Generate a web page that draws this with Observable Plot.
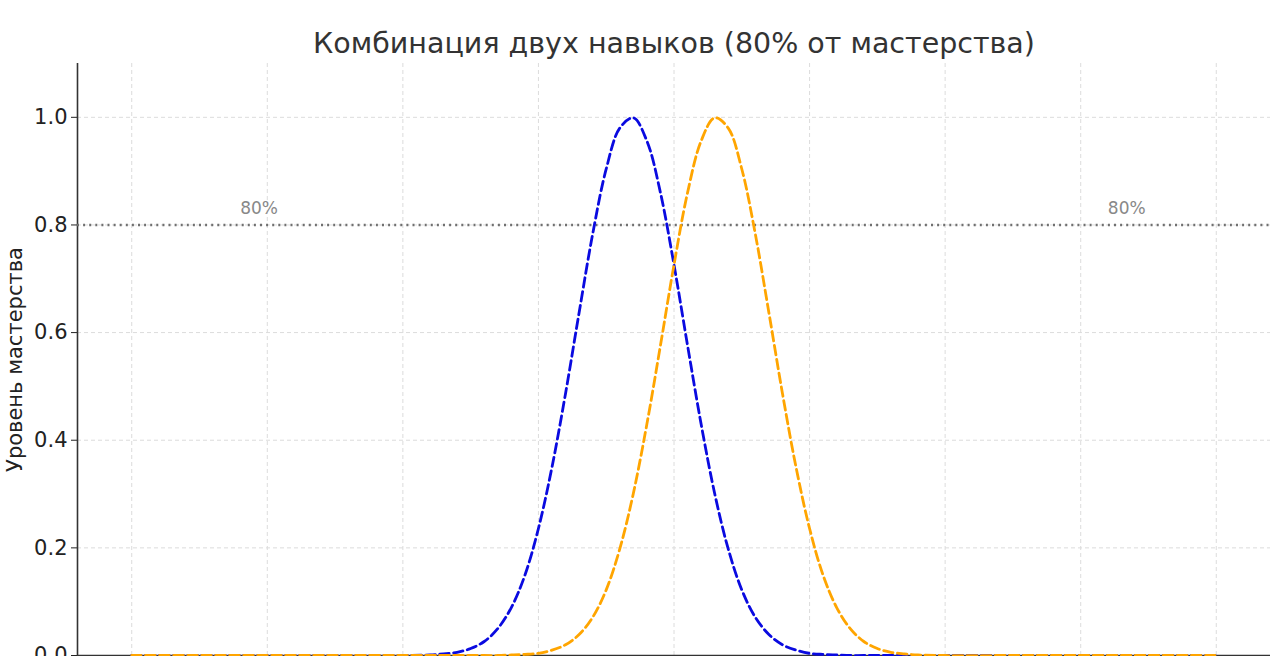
<!DOCTYPE html>
<html>
<head>
<meta charset="utf-8">
<script src="https://cdn.jsdelivr.net/npm/d3@7"></script>
<script src="https://cdn.jsdelivr.net/npm/@observablehq/plot@0.6"></script>
<style>
  html, body { margin: 0; padding: 0; background: #fff; overflow: hidden; }
  #chart { width: 1280px; }
</style>
</head>
<body>
<div id="chart"></div>
<script>
const title = "Комбинация двух навыков (80% от мастерства)";
const yLabel = "Уровень мастерства";
const thresholdLabel = "80%";
const threshold = 0.8;
const thresholdLabelX = [-3.2, 3.2];

const xTicks = [-4, -3, -2, -1, 0, 1, 2, 3, 4];
const yTicks = [0, 0.2, 0.4, 0.6, 0.8, 1.0];

const xs = [-4, -3.5, -3, -2.5, -2,
  -1.8, -1.7, -1.6, -1.5, -1.4, -1.3, -1.2, -1.1, -1.0, -0.9,
  -0.8, -0.7, -0.6, -0.5, -0.4, -0.3, -0.2, -0.1, 0.0, 0.1,
  0.2, 0.3, 0.4, 0.5, 0.6, 0.7, 0.8, 0.9, 1.0, 1.1,
  1.2, 1.3, 1.4, 1.5, 1.6, 1.7, 1.8,
  2, 2.5, 3, 3.5, 4];

const skillA = [0, 0, 0, 0, 0,
  0.001, 0.003, 0.006, 0.013, 0.026, 0.050, 0.089, 0.149, 0.236, 0.350,
  0.487, 0.637, 0.783, 0.904, 0.980, 0.999, 0.956, 0.860, 0.726, 0.576,
  0.430, 0.301, 0.198, 0.122, 0.071, 0.039, 0.020, 0.010, 0.004, 0.002,
  0.001, 0, 0, 0, 0, 0, 0,
  0, 0, 0, 0, 0];

const skillB = [0, 0, 0, 0, 0,
  0, 0, 0, 0, 0, 0, 0.001, 0.002, 0.004, 0.010,
  0.020, 0.039, 0.071, 0.122, 0.198, 0.301, 0.430, 0.576, 0.726, 0.860,
  0.956, 0.999, 0.980, 0.904, 0.783, 0.637, 0.487, 0.350, 0.236, 0.149,
  0.089, 0.050, 0.026, 0.013, 0.006, 0.003, 0.001,
  0, 0, 0, 0, 0];

const dataA = xs.map((x, i) => ({x, y: skillA[i]}));
const dataB = xs.map((x, i) => ({x, y: skillB[i]}));

const chart = Plot.plot({
  width: 1280,
  height: 720,
  marginTop: 63,
  marginLeft: 77,
  marginRight: 10,
  marginBottom: 65,
  style: { fontFamily: "'DejaVu Sans', sans-serif", background: "#fff", color: "#222" },
  x: { domain: [-4.4, 4.4] },
  y: { domain: [0, 1.1] },
  marks: [
    Plot.gridX(xTicks, { stroke: "#dcdcdc", strokeOpacity: 1, strokeDasharray: "4,3" }),
    Plot.gridY(yTicks, { stroke: "#dcdcdc", strokeOpacity: 1, strokeDasharray: "4,3" }),
    Plot.axisY(yTicks, {
      tickFormat: d3.format(".1f"), fontSize: 21, tickSize: 6, tickPadding: 4,
      label: yLabel, labelAnchor: "center", labelArrow: "none", labelOffset: 70
    }),
    Plot.axisX(xTicks, { fontSize: 21, tickSize: 6, tickPadding: 4, label: null }),
    Plot.ruleX([-4.4], { stroke: "#333", strokeWidth: 1.6 }),
    Plot.ruleY([0], { stroke: "#333", strokeWidth: 1.6 }),
    Plot.ruleY([threshold], { stroke: "#707070", strokeWidth: 2.4, strokeDasharray: "2,4.1" }),
    Plot.line(dataA, { x: "x", y: "y", stroke: "#0a0ae0", strokeWidth: 2.8, strokeDasharray: "9.5,4.5", curve: "catmull-rom" }),
    Plot.line(dataB, { x: "x", y: "y", stroke: "#ffa500", strokeWidth: 2.8, strokeDasharray: "9.5,4.5", curve: "catmull-rom" }),
    Plot.text(thresholdLabelX, { x: d => d, y: threshold, text: () => thresholdLabel, textAnchor: "start", dy: -16, fontSize: 17, fill: "#888" }),
    Plot.text([title], { frameAnchor: "top", dy: -31, fontSize: 28.5, fill: "#333" })
  ]
});
document.getElementById("chart").append(chart);
</script>
</body>
</html>
